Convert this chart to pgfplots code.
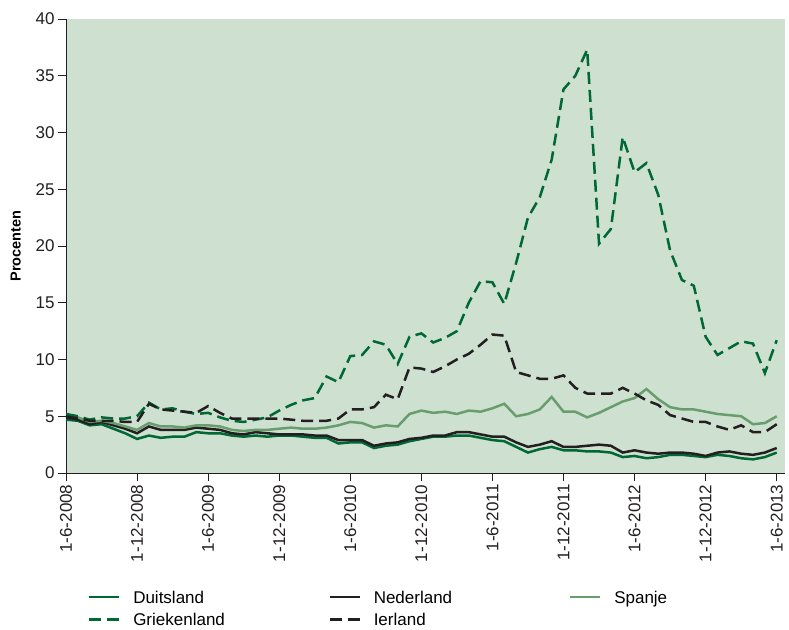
\documentclass[border=0pt]{standalone}
\usepackage{fontspec}
\setmainfont{Liberation Sans}
\usepackage{pgfplots}
\usepackage{pgfplotstable}
\pgfplotsset{compat=1.18}

\definecolor{bggreen}{RGB}{206,224,207}
\definecolor{dkgreen}{RGB}{0,104,52}
\definecolor{ltgreen}{RGB}{104,158,110}
\definecolor{nlblack}{RGB}{35,31,32}

\pgfplotstableread{
m de nl es gr ie
0 4.7 4.9 5.1 5.2 5.0
1 4.6 4.7 4.9 5.0 4.8
2 4.2 4.3 4.5 4.7 4.6
3 4.3 4.5 4.6 4.9 4.6
4 3.9 4.2 4.4 4.8 4.6
5 3.5 3.9 4.1 4.8 4.5
6 3.0 3.5 3.8 5.0 4.5
7 3.3 4.1 4.4 6.2 6.1
8 3.1 3.8 4.1 5.6 5.6
9 3.2 3.8 4.1 5.7 5.5
10 3.2 3.8 4.0 5.4 5.4
11 3.6 4.0 4.2 5.2 5.3
12 3.5 3.9 4.2 5.3 5.9
13 3.5 3.8 4.1 4.9 5.3
14 3.3 3.5 3.8 4.6 4.8
15 3.2 3.4 3.7 4.5 4.8
16 3.3 3.6 3.8 4.7 4.8
17 3.2 3.5 3.8 4.9 4.8
18 3.3 3.4 3.9 5.5 4.8
19 3.3 3.4 4.0 6.0 4.7
20 3.2 3.4 3.9 6.4 4.6
21 3.1 3.3 3.9 6.6 4.6
22 3.1 3.3 4.0 8.5 4.6
23 2.6 2.9 4.2 8.0 4.8
24 2.7 2.9 4.5 10.3 5.6
25 2.7 2.9 4.4 10.4 5.6
26 2.2 2.4 4.0 11.6 5.8
27 2.4 2.6 4.2 11.3 6.9
28 2.5 2.7 4.1 9.6 6.5
29 2.8 3.0 5.2 12.0 9.3
30 3.0 3.1 5.5 12.3 9.2
31 3.2 3.3 5.3 11.5 8.9
32 3.2 3.3 5.4 11.9 9.4
33 3.3 3.6 5.2 12.5 10.0
34 3.3 3.6 5.5 15.0 10.5
35 3.1 3.4 5.4 16.9 11.3
36 2.9 3.2 5.7 16.8 12.2
37 2.8 3.2 6.1 14.9 12.1
38 2.3 2.7 5.0 18.5 8.9
39 1.8 2.3 5.2 22.5 8.6
40 2.1 2.5 5.6 24.3 8.3
41 2.3 2.8 6.7 27.6 8.3
42 2.0 2.3 5.4 33.8 8.6
43 2.0 2.3 5.4 35.0 7.5
44 1.9 2.4 4.9 37.3 7.0
45 1.9 2.5 5.3 20.2 7.0
46 1.8 2.4 5.8 21.5 7.0
47 1.4 1.8 6.3 29.6 7.5
48 1.5 2.0 6.6 26.5 7.0
49 1.3 1.8 7.4 27.3 6.4
50 1.4 1.7 6.5 24.5 6.0
51 1.6 1.8 5.8 19.6 5.1
52 1.6 1.8 5.6 17.0 4.8
53 1.5 1.7 5.6 16.5 4.5
54 1.4 1.5 5.4 12.0 4.5
55 1.6 1.8 5.2 10.4 4.1
56 1.5 1.9 5.1 11.0 3.8
57 1.3 1.7 5.0 11.6 4.2
58 1.2 1.6 4.3 11.4 3.6
59 1.4 1.8 4.4 8.8 3.6
60 1.8 2.2 5.0 11.7 4.3
}\rates

\begin{document}
\begin{tikzpicture}
\begin{axis}[
  scale only axis, width=719pt, height=454pt,
  xmin=0, xmax=60.7, ymin=0, ymax=40,
  axis x line*=bottom, axis y line*=left,
  axis background/.style={fill=bggreen},
  axis line style={nlblack, line width=0.9pt},
  tick style={nlblack, line width=0.9pt},
  tick align=outside, major tick length=8pt,
  xtick={0,6,...,60},
  xticklabels={1-6-2008,1-12-2008,1-6-2009,1-12-2009,1-6-2010,1-12-2010,1-6-2011,1-12-2011,1-6-2012,1-12-2012,1-6-2013},
  x tick label style={rotate=90, anchor=east},
  ytick={0,5,...,40},
  /pgf/number format/assume math mode=true,
  ticklabel style={font=\fontsize{17}{19}\selectfont, text=nlblack},
  ylabel={Procenten},
  ylabel style={font=\fontsize{14.5}{16}\selectfont\bfseries},
  ylabel shift=8pt,
  legend columns=3,
  legend cell align=left,
  legend image code/.code={\draw[#1] (0pt,0pt) -- (30pt,0pt);},
  legend style={draw=none, fill=none, inner sep=0pt,
    at={(0.03,-0.2585)}, anchor=north west,
    font=\fontsize{17}{19}\selectfont,
    nodes={text height=12.5pt, text depth=0pt, inner sep=0pt},
    row sep=10pt,
    /tikz/every odd column/.style={column sep=13pt},
    /tikz/every even column/.style={column sep=10pt}},
  every axis plot/.append style={line width=2.5pt, line join=miter},
]
\addplot[dkgreen] table[x=m, y=de] {\rates};
\addlegendentry{\makebox[185pt][l]{Duitsland}}
\addplot[nlblack] table[x=m, y=nl] {\rates};
\addlegendentry{\makebox[185pt][l]{Nederland}}
\addplot[ltgreen] table[x=m, y=es] {\rates};
\addlegendentry{\makebox[185pt][l]{Spanje}}
\addplot[dkgreen, dash pattern=on 12pt off 6pt] table[x=m, y=gr] {\rates};
\addlegendentry{\makebox[185pt][l]{Griekenland}}
\addplot[nlblack, dash pattern=on 12pt off 6pt] table[x=m, y=ie] {\rates};
\addlegendentry{\makebox[185pt][l]{Ierland}}
\end{axis}
\pgfresetboundingbox
\path[use as bounding box] (current axis.south west) ++(-66pt,-157pt) rectangle ([shift={(4pt,19pt)}]current axis.north east);
\end{tikzpicture}
\end{document}
